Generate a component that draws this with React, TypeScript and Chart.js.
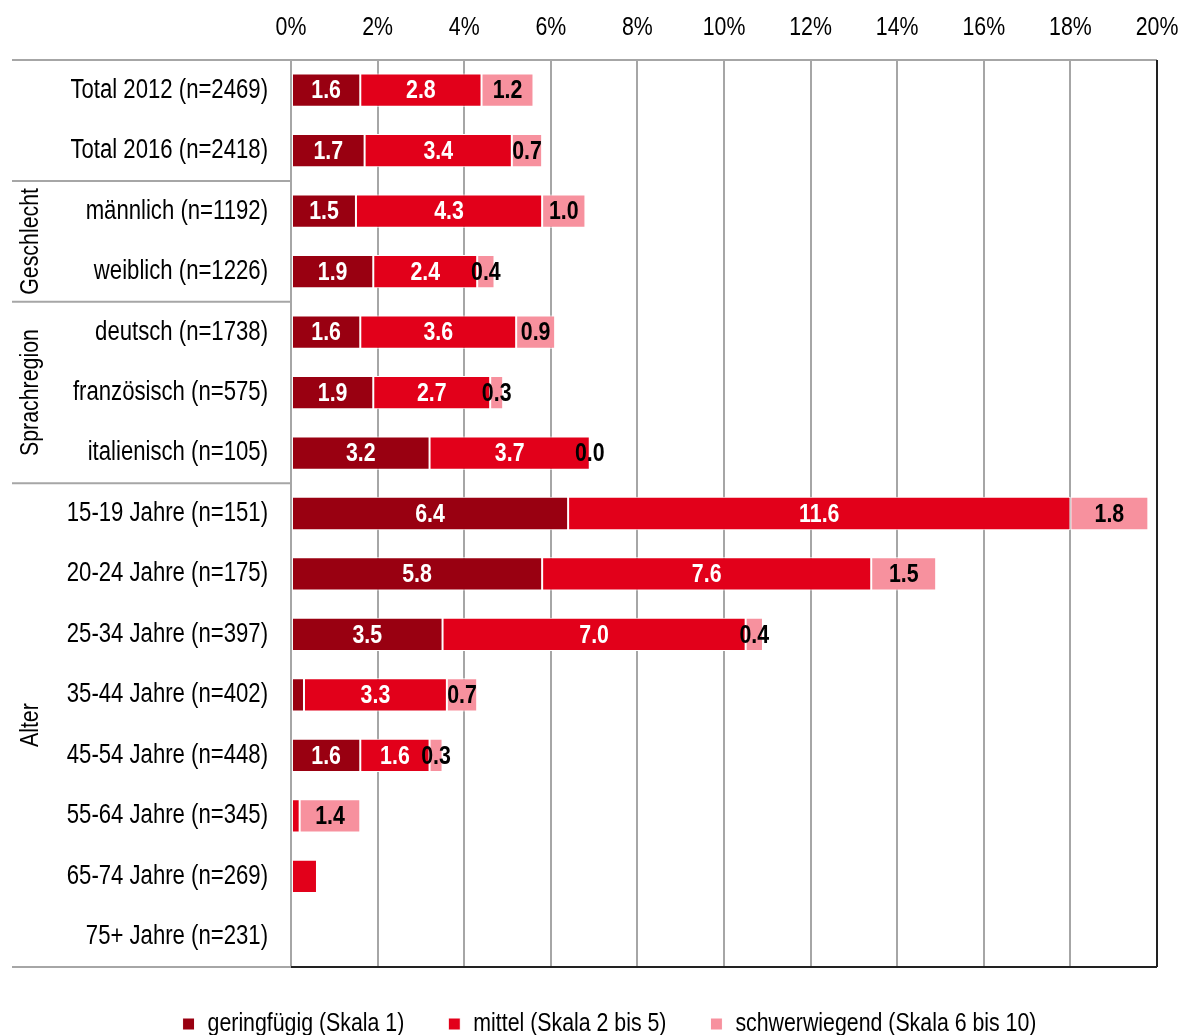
import React, { useEffect, useRef } from "react";
import { Chart, registerables } from "chart.js";

Chart.register(...registerables);

const categories = [
  "Total 2012 (n=2469)",
  "Total 2016 (n=2418)",
  "männlich (n=1192)",
  "weiblich (n=1226)",
  "deutsch (n=1738)",
  "französisch (n=575)",
  "italienisch (n=105)",
  "15-19 Jahre (n=151)",
  "20-24 Jahre (n=175)",
  "25-34 Jahre (n=397)",
  "35-44 Jahre (n=402)",
  "45-54 Jahre (n=448)",
  "55-64 Jahre (n=345)",
  "65-74 Jahre (n=269)",
  "75+ Jahre (n=231)",
];

const geringfuegig = [1.6, 1.7, 1.5, 1.9, 1.6, 1.9, 3.2, 6.4, 5.8, 3.5, 0.3, 1.6, null, null, null];
const mittel = [2.8, 3.4, 4.3, 2.4, 3.6, 2.7, 3.7, 11.6, 7.6, 7.0, 3.3, 1.6, 0.2, 0.6, null];
const schwerwiegend = [1.2, 0.7, 1.0, 0.4, 0.9, 0.3, 0.0, 1.8, 1.5, 0.4, 0.7, 0.3, 1.4, null, null];

const seriesNames = ["geringfügig (Skala 1)", "mittel (Skala 2 bis 5)", "schwerwiegend (Skala 6 bis 10)"];

// labels not printed in the original (datasetIndex:rowIndex)
const unlabeled = ["0:10", "1:12", "1:13"];

const groupNames = ["Geschlecht", "Sprachregion", "Alter"];
const groupStarts = [2, 4, 7];
const groupEnds = [3, 6, 14];

const xTicksMax = 20;
const xTickStep = 2;

const FONT = "'Liberation Sans', Arial, sans-serif";
const NARROW = 0.82;
const PAD_LEFT = 62;

const decorPlugin = {
  id: "decor",
  afterDraw(chart: any) {
    const { ctx, chartArea } = chart;
    const yScale = chart.scales.y;
    const leftX = 12;
    ctx.save();
    ctx.lineWidth = 2;
    ctx.strokeStyle = "#a6a6a6";
    ctx.beginPath();
    ctx.moveTo(leftX, chartArea.top);
    ctx.lineTo(chartArea.right, chartArea.top);
    ctx.stroke();
    ctx.beginPath();
    ctx.moveTo(leftX, chartArea.bottom);
    ctx.lineTo(chartArea.left, chartArea.bottom);
    ctx.stroke();
    groupStarts.forEach((s) => {
      const y = (yScale.getPixelForValue(s - 1) + yScale.getPixelForValue(s)) / 2;
      ctx.beginPath();
      ctx.moveTo(leftX, y);
      ctx.lineTo(chartArea.left, y);
      ctx.stroke();
    });
    ctx.strokeStyle = "#222";
    ctx.beginPath();
    ctx.moveTo(chartArea.left, chartArea.bottom);
    ctx.lineTo(chartArea.right, chartArea.bottom);
    ctx.moveTo(chartArea.right, chartArea.top);
    ctx.lineTo(chartArea.right, chartArea.bottom);
    ctx.stroke();
    ctx.fillStyle = "#000";
    ctx.font = `26px ${FONT}`;
    ctx.textAlign = "center";
    ctx.textBaseline = "middle";
    groupNames.forEach((g, i) => {
      const y0 = (yScale.getPixelForValue(groupStarts[i] - 1) + yScale.getPixelForValue(groupStarts[i])) / 2;
      const y1 =
        groupEnds[i] >= categories.length - 1
          ? chartArea.bottom
          : (yScale.getPixelForValue(groupEnds[i]) + yScale.getPixelForValue(groupEnds[i] + 1)) / 2;
      ctx.save();
      ctx.translate(31, (y0 + y1) / 2);
      ctx.rotate(-Math.PI / 2);
      ctx.fillText(g, 0, 0);
      ctx.restore();
    });
    ctx.restore();
  },
  afterDatasetsDraw(chart: any) {
    const { ctx } = chart;
    ctx.save();
    ctx.font = `bold 26px ${FONT}`;
    ctx.textAlign = "center";
    ctx.textBaseline = "middle";
    chart.data.datasets.forEach((ds: any, di: number) => {
      const meta = chart.getDatasetMeta(di);
      meta.data.forEach((el: any, i: number) => {
        const v = ds.data[i];
        if (v === null || v === undefined) return;
        if (unlabeled.includes(`${di}:${i}`)) return;
        const cx = (el.x + el.base) / 2;
        ctx.fillStyle = di === 2 ? "#000" : "#fff";
        ctx.fillText(Number(v).toFixed(1), cx, el.y + 1);
      });
    });
    ctx.restore();
  },
};

function makeNarrow(ctx: any) {
  const origFill = ctx.fillText.bind(ctx);
  const origMeasure = ctx.measureText.bind(ctx);
  ctx.fillText = (t: string, x: number, y: number) => {
    ctx.save();
    ctx.translate(x, y);
    ctx.scale(NARROW, 1);
    origFill(t, 0, 0);
    ctx.restore();
  };
  ctx.measureText = (t: string) => {
    const m = origMeasure(t);
    return {
      width: m.width * NARROW,
      actualBoundingBoxAscent: m.actualBoundingBoxAscent,
      actualBoundingBoxDescent: m.actualBoundingBoxDescent,
      actualBoundingBoxLeft: m.actualBoundingBoxLeft * NARROW,
      actualBoundingBoxRight: m.actualBoundingBoxRight * NARROW,
      fontBoundingBoxAscent: m.fontBoundingBoxAscent,
      fontBoundingBoxDescent: m.fontBoundingBoxDescent,
    };
  };
}

export default function App() {
  const ref = useRef<HTMLCanvasElement | null>(null);
  useEffect(() => {
    if (!ref.current) return;
    makeNarrow(ref.current.getContext("2d"));
    const colors = ["#990011", "#e2001a", "#f7919e"];
    const chart = new Chart(ref.current, {
      type: "bar",
      data: {
        labels: categories,
        datasets: [geringfuegig, mittel, schwerwiegend].map((d, i) => ({
          label: seriesNames[i],
          data: d,
          backgroundColor: colors[i],
          borderColor: "#ffffff",
          borderWidth: 1,
          borderSkipped: false,
          categoryPercentage: 1,
          barPercentage: 0.55,
        })),
      },
      options: {
        indexAxis: "y",
        responsive: false,
        animation: false,
        devicePixelRatio: 1,
        layout: { padding: { left: PAD_LEFT, right: 23, top: 0, bottom: 0 } },
        scales: {
          x: {
            position: "top",
            stacked: true,
            min: 0,
            max: xTicksMax,
            ticks: {
              stepSize: xTickStep,
              callback: (v: any) => `${v}%`,
              color: "#000",
              font: { size: 26, family: FONT },
              padding: 17,
              maxRotation: 0,
            },
            grid: { color: "#a6a6a6", lineWidth: 2, drawTicks: false },
            border: { display: false },
            afterFit: (s: any) => {
              s.height = 60;
              s.paddingLeft = 0;
              s.paddingRight = 0;
            },
          },
          y: {
            stacked: true,
            ticks: { color: "#000", font: { size: 27, family: FONT }, padding: 23, autoSkip: false },
            grid: { display: false, drawTicks: false },
            border: { display: false },
            afterFit: (s: any) => {
              s.width = 291 - PAD_LEFT;
              s.paddingTop = 0;
              s.paddingBottom = 0;
            },
          },
        },
        plugins: {
          legend: {
            position: "bottom",
            labels: {
              color: "#000",
              font: { size: 26, family: FONT },
              boxWidth: 12,
              boxHeight: 12,
              padding: 44,
            },
          },
          tooltip: { enabled: false },
        },
      },
      plugins: [decorPlugin],
    } as any);
    return () => chart.destroy();
  }, []);
  return (
    <div style={{ position: "fixed", left: 0, top: 0, width: 1180, height: 1047, background: "#fff" }}>
      <canvas ref={ref} width={1180} height={1047} />
    </div>
  );
}
